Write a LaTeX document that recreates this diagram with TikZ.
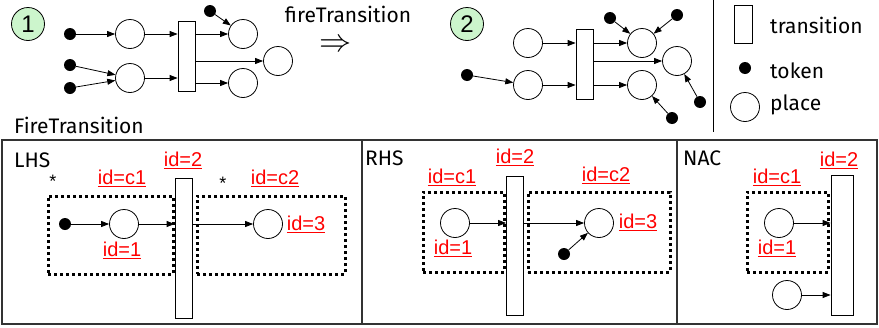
\documentclass[tikz,border=0pt]{standalone}
\usepackage{fontspec}
\usepackage{xcolor}
\usepackage{graphicx}
\usepackage{tikz}
\usetikzlibrary{arrows.meta}
\newfontfamily\handf{Fira Sans}
\newfontfamily\labf{Liberation Sans}
\definecolor{numgreen}{HTML}{CCF5CC}
\definecolor{framegray}{HTML}{333333}

\begin{document}
\begin{tikzpicture}[x=1pt, y=-1pt,
    place/.style={circle, draw, line width=0.8pt, minimum size=29pt, inner sep=0pt},
    token/.style={circle, fill, minimum size=12pt, inner sep=0pt},
    trans/.style={draw, fill=white, line width=0.8pt, minimum width=17pt, inner sep=0pt},
    arw/.style={-{Triangle[length=8pt,width=6pt]}, line width=0.8pt},
    txt/.style={font=\handf\fontsize{21}{24}\selectfont, inner sep=0pt},
    idl/.style={font=\labf\fontsize{20}{22}\selectfont, text=red, inner sep=0pt},
    num/.style={circle, draw, fill=numgreen, line width=0.8pt, minimum size=33pt,
                inner sep=0pt, font=\labf\fontsize{24}{26}\selectfont},
    dotbox/.style={draw, line width=3pt, dash pattern=on 3pt off 3pt, inner sep=0pt},
    panel/.style={draw=framegray, line width=2pt, minimum height=184pt, inner sep=0pt},
    star/.style={font=\labf\fontsize{18}{18}\selectfont, inner sep=0pt},
]
\useasboundingbox (0,0) rectangle (879,327);

% step 1: before firing
\node[num] (n1) at (28,24) {1};
\node[token] (k1) at (70,34) {};
\node[token] (k2) at (70,65) {};
\node[token] (k3) at (70,88) {};
\node[place] (p1) at (130,34) {};
\node[place] (p2) at (130,78) {};
\node[trans, minimum height=70pt] (t1) at (186.5,56) {};
\node[token] (k4) at (210,11) {};
\node[place] (p3) at (243,34) {};
\node[place] (p4) at (278,61) {};
\node[place] (p5) at (243,83) {};
\foreach \a/\b in {k1/p1, k2/p2, k3/p2, k4/p3}
    \draw[arw] (\a) -- (\b);
\foreach \a in {p1, p2}
    \draw[arw] (\a) -- (t1.west |- \a);
\foreach \b in {p3, p4, p5}
    \draw[arw] (t1.east |- \b) -- (\b);

\node[txt] (fire) at (348,14) {fireTransition};
\node[inner sep=0pt] (impl) at (336,46) {\scalebox{1.55}{\fontsize{20}{20}\selectfont$\Rightarrow$}};
\node[txt, anchor=west] (fireT) at (14,125) {FireTransition};

% step 2: after firing
\node[num] (n2) at (467,24) {2};
\node[place] (q1) at (528,43) {};
\node[place] (q2) at (528,85) {};
\node[token] (m1) at (467,75) {};
\node[trans, minimum height=70pt] (t2) at (584.5,64) {};
\node[place] (q3) at (642,43) {};
\node[place] (q4) at (677,61) {};
\node[place] (q5) at (642,85) {};
\node[token] (m2) at (610,18) {};
\node[token] (m3) at (677,15) {};
\node[token] (m4) at (700,102) {};
\node[token] (m5) at (672,118) {};
\foreach \a/\b in {m1/q2, m2/q3, m3/q3, m4/q4, m5/q5}
    \draw[arw] (\a) -- (\b);
\foreach \a in {q1, q2}
    \draw[arw] (\a) -- (t2.west |- \a);
\foreach \b in {q3, q4, q5}
    \draw[arw] (t2.east |- \b) -- (\b);

% legend
\coordinate (sepT) at (713,0);
\coordinate (sepB) at (713,132);
\draw[line width=0.8pt] (sepT) -- (sepB);
\node[trans, minimum width=18pt, minimum height=38pt] (lgT) at (743,24) {};
\node[txt, anchor=west] (lgTt) at (770,25) {transition};
\node[token] (lgK) at (745,68) {};
\node[txt, anchor=west] (lgKt) at (770,71) {token};
\node[place] (lgP) at (745,107) {};
\node[txt, anchor=west] (lgPt) at (770,105) {place};

% rule panels
\node[panel, minimum width=360pt] (lhs) at (182,232) {};
\node[panel, minimum width=315pt] (rhs) at (519.5,232) {};
\node[panel, minimum width=200pt] (nac) at (777,232) {};

% LHS
\node[txt, anchor=west] (lhsT) at (14,160) {LHS};
\node[dotbox, minimum width=125pt, minimum height=78pt] (lc1) at (110.5,235) {};
\node[dotbox, minimum width=148pt, minimum height=78pt] (lc2) at (271,235) {};
\node[trans, minimum height=140pt] (lt) at (183.5,248) {};
\node[token] (lk) at (65,224) {};
\node[place] (lp1) at (124,224) {};
\node[place] (lp3) at (268,224) {};
\draw[arw] (lk) -- (lp1);
\draw[arw] (lp1) -- (lt.west |- lp1);
\draw[arw] (lt.east |- lp3) -- (lp3);
\node[star] (ls1) at (53,181) {*};
\node[star] (ls2) at (223,183) {*};
\node[idl] (lid2) at (183,160) {\underline{id=2}};
\node[idl] (lidc1) at (122,178) {\underline{id=c1}};
\node[idl] (lidc2) at (275,178) {\underline{id=c2}};
\node[idl] (lid1) at (122,250) {\underline{id=1}};
\node[idl] (lid3) at (306,224) {\underline{id=3}};

% RHS
\node[txt, anchor=west] (rhsT) at (365,158) {RHS};
\node[dotbox, minimum width=81pt, minimum height=80pt] (rc1) at (463.5,232) {};
\node[dotbox, minimum width=142pt, minimum height=80pt] (rc2) at (599,232) {};
\node[trans, minimum height=139pt] (rt) at (515,245.5) {};
\node[place] (rp1) at (455,223) {};
\node[place] (rp3) at (599,223) {};
\node[token] (rk) at (564,254) {};
\draw[arw] (rp1) -- (rt.west |- rp1);
\draw[arw] (rt.east |- rp3) -- (rp3);
\draw[arw] (rk) -- (rp3);
\node[idl] (rid2) at (515,157) {\underline{id=2}};
\node[idl] (ridc1) at (452,177) {\underline{id=c1}};
\node[idl] (ridc2) at (606,175) {\underline{id=c2}};
\node[idl] (rid1) at (453,248) {\underline{id=1}};
\node[idl] (rid3) at (638,222) {\underline{id=3}};

% NAC
\node[txt, anchor=west] (nacT) at (683,158) {NAC};
\node[dotbox, minimum width=81pt, minimum height=80pt] (nc1) at (787.5,232) {};
\node[trans, minimum width=22pt, minimum height=140pt] (nt) at (842,245) {};
\node[place] (np1) at (779,223) {};
\node[place] (np2) at (787,295) {};
\draw[arw] (np1) -- (nt.west |- np1);
\draw[arw] (np2) -- (nt.west |- np2);
\node[idl] (nid2) at (839,160) {\underline{id=2}};
\node[idl] (nidc1) at (777,177) {\underline{id=c1}};
\node[idl] (nid1) at (777,248) {\underline{id=1}};
\end{tikzpicture}
\end{document}
